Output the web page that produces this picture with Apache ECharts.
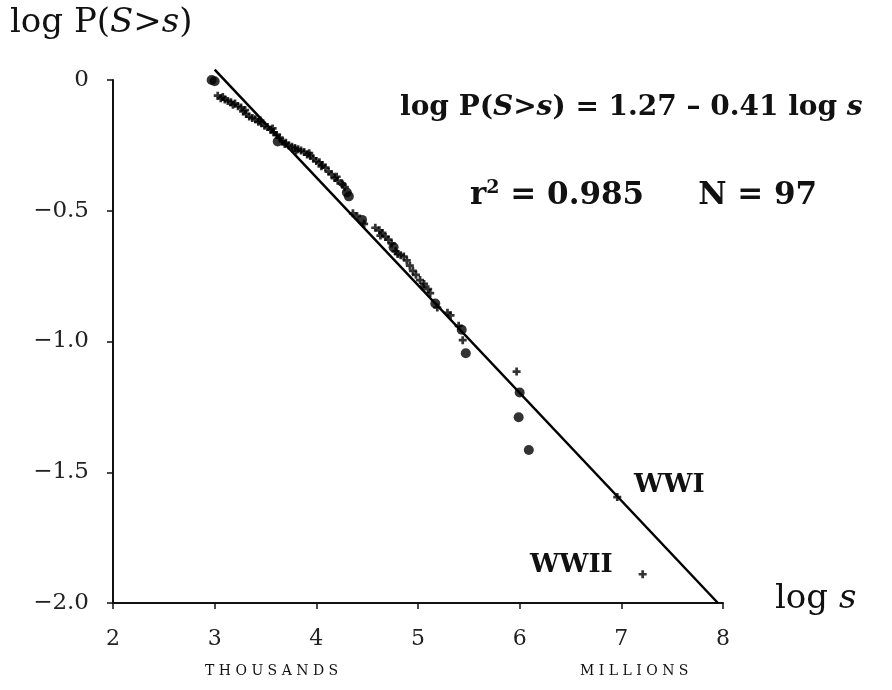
<!DOCTYPE html>
<html><head><meta charset="utf-8">
<script src="https://cdn.jsdelivr.net/npm/echarts@6/dist/echarts.min.js"></script>
<style>html,body{margin:0;padding:0;background:#fff}#c{width:892px;height:690px}</style>
</head><body><div id="c"></div>
<script>
// log s (x) and log P(S>s) (y) of plotted wars
var crossX = [3.03,3.06,3.08,3.1,3.13,3.16,3.18,3.2,3.23,3.26,3.28,3.3,3.31,3.34,3.37,3.4,3.43,3.45,3.46,3.49,3.52,3.55,3.57,3.58,3.61,3.64,3.67,3.69,3.7,3.73,3.76,3.79,3.8,3.82,3.85,3.88,3.91,3.93,3.94,3.97,4.0,4.03,4.05,4.06,4.09,4.12,4.15,4.18,4.2,4.21,4.25,4.26,4.28,4.36,4.4,4.47,4.58,4.62,4.63,4.65,4.68,4.71,4.74,4.78,4.8,4.83,4.86,4.89,4.92,4.95,4.98,5.02,5.05,5.06,5.1,5.12,5.19,5.29,5.32,5.4,5.44,5.97,6.96,7.21];
var crossY = [-0.06,-0.07,-0.065,-0.075,-0.08,-0.085,-0.095,-0.09,-0.1,-0.105,-0.12,-0.115,-0.13,-0.14,-0.145,-0.15,-0.16,-0.155,-0.165,-0.175,-0.18,-0.19,-0.185,-0.2,-0.21,-0.22,-0.235,-0.245,-0.24,-0.25,-0.255,-0.26,-0.27,-0.265,-0.27,-0.275,-0.285,-0.28,-0.29,-0.3,-0.31,-0.315,-0.33,-0.325,-0.335,-0.35,-0.36,-0.375,-0.37,-0.385,-0.395,-0.4,-0.41,-0.51,-0.52,-0.55,-0.565,-0.575,-0.595,-0.585,-0.6,-0.61,-0.625,-0.655,-0.665,-0.67,-0.675,-0.69,-0.71,-0.73,-0.745,-0.765,-0.79,-0.78,-0.8,-0.815,-0.87,-0.89,-0.9,-0.94,-0.995,-1.115,-1.595,-1.89];
var dotX = [2.97,3.0,3.62,4.3,4.32,4.45,4.76,5.17,5.43,5.47,6.0,5.99,6.09];
var dotY = [0.0,-0.005,-0.235,-0.43,-0.445,-0.535,-0.64,-0.855,-0.955,-1.045,-1.195,-1.29,-1.415];
// fitted line log P = 1.27 - 0.41 log s
var fitX = [3.0, 7.95];
var fitY = [0.04, -2.0];
var xTicks = [2,3,4,5,6,7,8];
var yTicks = [0,-0.5,-1.0,-1.5,-2.0];

function zip(a,b){return a.map(function(v,i){return [v,b[i]];});}
var serif = '"DejaVu Serif","Liberation Serif",serif';
var chart = echarts.init(document.getElementById('c'));
chart.setOption({
  animation:false,
  backgroundColor:'#fff',
  grid:{left:113,right:169,top:80,bottom:87},
  xAxis:{type:'value',min:2,max:8,interval:1,
    axisLine:{onZero:false,lineStyle:{color:'#111',width:2}},
    axisTick:{length:6,lineStyle:{color:'#111',width:1.5}},
    splitLine:{show:false},
    axisLabel:{margin:25,fontFamily:serif,fontSize:22,color:'#222',
      formatter:function(v){return xTicks.indexOf(v)>=0?String(v):'';}}},
  yAxis:{type:'value',min:-2,max:0,interval:0.5,
    axisLine:{show:true,onZero:false,lineStyle:{color:'#111',width:2}},
    axisTick:{show:true,length:6,lineStyle:{color:'#111',width:1.5}},
    splitLine:{show:false},
    axisLabel:{margin:24,fontFamily:serif,fontSize:23,color:'#222',
      formatter:function(v){return yTicks.indexOf(v)<0?'':(v===0?'0':('\u2212'+Math.abs(v).toFixed(1)));}}},
  series:[
    {type:'line',data:zip(fitX,fitY),symbol:'none',clip:false,lineStyle:{color:'#000',width:2.5},z:1},
    {type:'scatter',data:zip(crossX,crossY),symbol:'path://M3.3,0H6.7V3.3H10V6.7H6.7V10H3.3V6.7H0V3.3H3.3Z',symbolSize:8,itemStyle:{color:'#000'},z:3},
    {type:'scatter',data:zip(dotX,dotY),symbol:'circle',symbolSize:10,itemStyle:{color:'#000'},z:3}
  ],
  graphic:[
    {type:'text',left:10,top:6,style:{text:'{n|log P(}{i|S}{n|>}{i|s}{n|)}',rich:{n:{fontFamily:serif,fontSize:34,fill:'#111'},i:{fontFamily:serif,fontSize:34,fontStyle:'italic',fill:'#111'}}}},
    {type:'text',left:775,top:582,style:{text:'{n|log }{i|s}',rich:{n:{fontFamily:serif,fontSize:34,fill:'#111'},i:{fontFamily:serif,fontSize:34,fontStyle:'italic',fill:'#111'}}}},
    {type:'text',left:400,top:94,style:{text:'{n|log P(}{i|S}{n|>}{i|s}{n|) = 1.27 \u2013 0.41 log }{i|s}',rich:{n:{fontFamily:serif,fontSize:28,fontWeight:'bold',fill:'#111'},i:{fontFamily:serif,fontSize:28,fontWeight:'bold',fontStyle:'italic',fill:'#111'}}}},
    {type:'text',left:470,top:179,style:{text:'{n|r}{s|2}{n| = 0.985     N = 97}',rich:{n:{fontFamily:serif,fontSize:31,fontWeight:'bold',fill:'#111'},s:{fontFamily:serif,fontSize:19,fontWeight:'bold',fill:'#111',verticalAlign:'top',padding:[0,0,15,0]}}}},
    {type:'text',left:634,top:472,style:{text:'WWI',fontFamily:serif,fontSize:26,fontWeight:'bold',fill:'#111'}},
    {type:'text',left:530,top:552,style:{text:'WWII',fontFamily:serif,fontSize:26,fontWeight:'bold',fill:'#111'}},
    {type:'text',left:205,top:664,style:{text:'T H O U S A N D S',fontFamily:serif,fontSize:14,fill:'#111'}},
    {type:'text',left:580,top:664,style:{text:'M I L L I O N S',fontFamily:serif,fontSize:14,fill:'#111'}}
  ]
});
</script></body></html>
